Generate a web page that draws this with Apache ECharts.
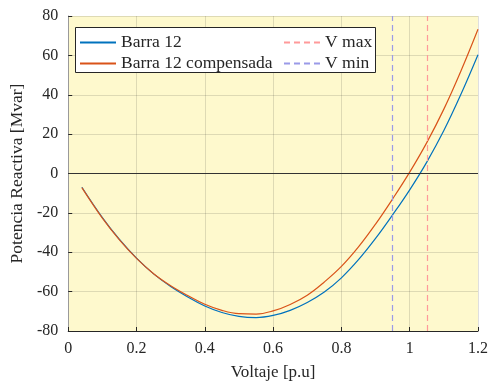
<!DOCTYPE html>
<html>
<head>
<meta charset="utf-8">
<script src="https://cdn.jsdelivr.net/npm/echarts@6/dist/echarts.min.js"></script>
<style>
html,body{margin:0;padding:0;background:#fff;}
#chart{width:493px;height:386px;}
</style>
</head>
<body>
<div id="chart"></div>
<script>
// ---- data ----
var voltage = [0.04, 0.1, 0.15, 0.2, 0.25, 0.3, 0.35, 0.4, 0.45, 0.5, 0.55, 0.6, 0.65, 0.7, 0.75, 0.8, 0.85, 0.9, 0.95, 1.0, 1.05, 1.1, 1.15, 1.2];
var qBarra12 = [-7, -22.4, -33.5, -43.0, -51.0, -57.4, -62.7, -67.3, -70.6, -72.6, -73.2, -72.1, -69.5, -65.5, -60.2, -53.0, -43.8, -33.0, -21.0, -8.3, 5.8, 21.8, 40.2, 60.3];
var qBarra12Comp = [-7.2, -22.7, -33.7, -43.1, -50.9, -57.0, -62.0, -66.4, -69.5, -71.2, -71.4, -69.8, -66.5, -61.8, -55.1, -47.2, -37.3, -25.7, -12.9, 0.7, 15.7, 32.7, 52.1, 73.3];
var vMax = 1.05;
var vMin = 0.95;
var xTicks = [0, 0.2, 0.4, 0.6, 0.8, 1, 1.2];
var yTicks = [-80, -60, -40, -20, 0, 20, 40, 60, 80];
var seriesNames = ['Barra 12', 'Barra 12 compensada', 'V max', 'V min'];

function pairs(xs, ys) { return xs.map(function (x, i) { return [x, ys[i]]; }); }

var FONT = 'Liberation Serif';
var TXT = '#262626';
var VMAX_COLOR = '#ff9a9a';
var VMIN_COLOR = '#9a9ae8';
var legendCommon = {
  orient: 'vertical', top: 28, itemWidth: 36, itemHeight: 12, itemGap: 2, z: 20,
  itemStyle: {opacity: 0},
  textStyle: {fontFamily: FONT, fontSize: 17.5, color: TXT, lineHeight: 19}
};
var chart = echarts.init(document.getElementById('chart'), null, {renderer: 'canvas'});
chart.setOption({
  animation: false,
  backgroundColor: '#ffffff',
  grid: {left: 66, right: 15, top: 16, bottom: 50, show: true, backgroundColor: '#fef9cd', borderWidth: 0},
  xAxis: {
    type: 'value', min: xTicks[0], max: xTicks[xTicks.length - 1], interval: 0.2,
    name: 'Voltaje [p.u]', nameLocation: 'middle', nameGap: 33,
    nameTextStyle: {fontFamily: FONT, fontSize: 17, color: TXT},
    axisLine: {show: true, onZero: false, lineStyle: {color: TXT, width: 1}},
    axisTick: {show: true, inside: true, length: 4, lineStyle: {color: TXT}},
    axisLabel: {fontFamily: FONT, fontSize: 16, color: TXT, margin: 10,
      formatter: function (v) { return String(+v.toFixed(1)); }},
    splitLine: {show: true, lineStyle: {color: 'rgba(38,38,38,0.15)', width: 1}}
  },
  yAxis: {
    type: 'value', min: yTicks[0], max: yTicks[yTicks.length - 1], interval: 20,
    name: 'Potencia Reactiva [Mvar]', nameLocation: 'middle', nameGap: 28,
    nameTextStyle: {fontFamily: FONT, fontSize: 17.5, color: TXT},
    axisLine: {show: true, onZero: false, lineStyle: {color: '#9a9a9a', width: 1}},
    axisTick: {show: true, inside: true, length: 4, lineStyle: {color: TXT}},
    axisLabel: {fontFamily: FONT, fontSize: 16, color: TXT, margin: 10},
    splitLine: {show: true, lineStyle: {color: 'rgba(38,38,38,0.15)', width: 1}}
  },
  legend: [
    Object.assign({data: [seriesNames[0], seriesNames[1]], left: 74}, legendCommon),
    Object.assign({data: [seriesNames[2], seriesNames[3]], left: 278}, legendCommon)
  ],
  graphic: [
    {type: 'rect', z: 10, shape: {x: 75.5, y: 27.5, width: 300, height: 45},
     style: {fill: '#ffffff', stroke: TXT, lineWidth: 1}}
  ],
  series: [
    {name: seriesNames[0], type: 'line', data: pairs(voltage, qBarra12), showSymbol: false, symbol: 'none',
     smooth: 0.4, lineStyle: {color: '#0072BD', width: 1.2}, itemStyle: {color: '#0072BD'}, z: 3,
     markLine: {silent: true, symbol: 'none', label: {show: false}, animation: false,
       lineStyle: {color: '#333333', type: 'solid', width: 1}, data: [{yAxis: 0}]}},
    {name: seriesNames[1], type: 'line', data: pairs(voltage, qBarra12Comp), showSymbol: false, symbol: 'none',
     smooth: 0.4, lineStyle: {color: '#D95319', width: 1.2}, itemStyle: {color: '#D95319'}, z: 4},
    {name: seriesNames[2], type: 'line', data: [], symbol: 'none',
     lineStyle: {color: VMAX_COLOR, type: [6, 4], width: 1.2}, itemStyle: {color: VMAX_COLOR},
     markLine: {silent: true, symbol: 'none', label: {show: false}, animation: false,
       lineStyle: {color: VMAX_COLOR, type: [6, 4], width: 1.2}, data: [{xAxis: vMax}]}},
    {name: seriesNames[3], type: 'line', data: [], symbol: 'none',
     lineStyle: {color: VMIN_COLOR, type: [6, 4], width: 1.2}, itemStyle: {color: VMIN_COLOR},
     markLine: {silent: true, symbol: 'none', label: {show: false}, animation: false,
       lineStyle: {color: VMIN_COLOR, type: [6, 4], width: 1.2}, data: [{xAxis: vMin}]}}
  ]
});
</script>
</body>
</html>
